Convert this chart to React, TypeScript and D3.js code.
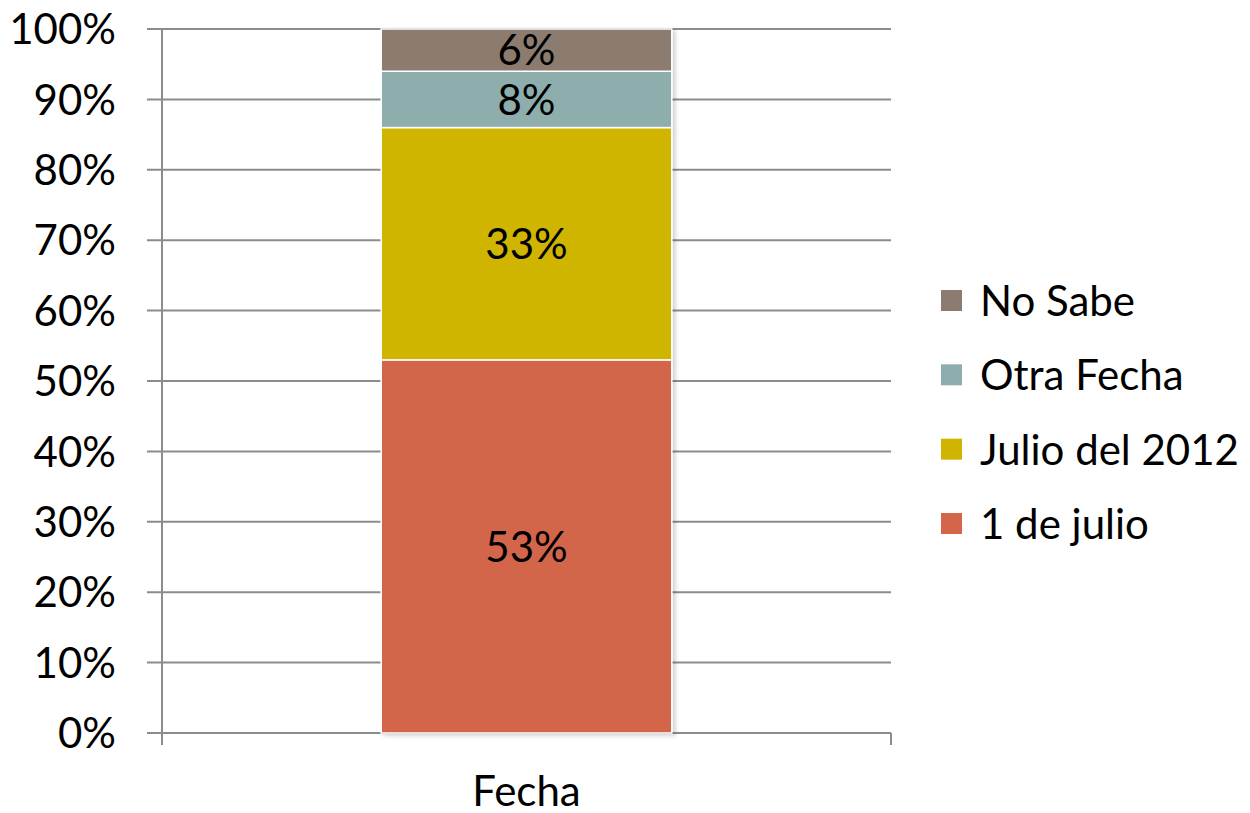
import React from "react";
import * as d3 from "d3";

const categories = ["Fecha"];
const seriesNames = ["1 de julio", "Julio del 2012", "Otra Fecha", "No Sabe"];
const seriesValues = [0.53, 0.33, 0.08, 0.06];
const seriesColors = ["#D3654B", "#CFB500", "#8EAEAD", "#8C7B70"];
const yTicks = [0, 0.1, 0.2, 0.3, 0.4, 0.5, 0.6, 0.7, 0.8, 0.9, 1.0];

const W = 1250;
const H = 813;
const FONT = "Lato, 'Open Sans', sans-serif";
const FS = 42;

export default function App() {
  const left = 162;
  const right = 891;
  const y = d3.scaleLinear().domain([0, 1]).range([733, 29]);
  const x = d3.scaleBand().domain(categories).range([left, right]).paddingInner(0.43).paddingOuter(0.43);
  const fmt = d3.format(".0%");

  const stacked: { name: string; v0: number; v1: number; color: string; value: number }[] = [];
  let acc = 0;
  seriesValues.forEach((v, i) => {
    stacked.push({ name: seriesNames[i], v0: acc, v1: acc + v, color: seriesColors[i], value: v });
    acc += v;
  });

  const legendOrder = [...stacked].reverse();
  const legendY = d3.scalePoint().domain(legendOrder.map((d) => d.name)).range([301, 524]);

  return (
    <svg width={W} height={H} style={{ position: "absolute", left: 0, top: 0, background: "#fff" }}>
      <defs>
        <filter id="sh" x="-10%" y="-10%" width="130%" height="130%">
          <feDropShadow dx="3" dy="2" stdDeviation="2" floodColor="#000" floodOpacity="0.18" />
        </filter>
      </defs>
      {yTicks.map((t) => (
        <line key={t} x1={147} x2={right} y1={y(t)} y2={y(t)} stroke="#8C8C8C" strokeWidth={2} />
      ))}
      <line x1={left} x2={left} y1={y(1)} y2={745} stroke="#8C8C8C" strokeWidth={2} />
      <line x1={right} x2={right} y1={y(0)} y2={745} stroke="#8C8C8C" strokeWidth={2} />
      {yTicks.map((t) => (
        <text key={t} x={116} y={y(t)} dy="0.36em" textAnchor="end" fontFamily={FONT} fontSize={FS} fill="#000">
          {fmt(t)}
        </text>
      ))}
      {categories.map((c) => (
        <g key={c} filter="url(#sh)">
          {stacked.map((s) => (
            <rect
              key={s.name}
              x={x(c)!}
              width={x.bandwidth()}
              y={y(s.v1)}
              height={y(s.v0) - y(s.v1)}
              fill={s.color}
              stroke="#fff"
              strokeWidth={1.5}
            />
          ))}
        </g>
      ))}
      {categories.map((c) =>
        stacked.map((s) => (
          <text
            key={c + s.name}
            x={x(c)! + x.bandwidth() / 2}
            y={(y(s.v0) + y(s.v1)) / 2}
            dy="0.36em"
            textAnchor="middle"
            fontFamily={FONT}
            fontSize={FS}
            fill="#000"
          >
            {fmt(s.value)}
          </text>
        ))
      )}
      {categories.map((c) => (
        <text key={c} x={x(c)! + x.bandwidth() / 2} y={806} textAnchor="middle" fontFamily={FONT} fontSize={FS} fill="#000">
          {c}
        </text>
      ))}
      {legendOrder.map((s) => (
        <g key={s.name} transform={`translate(941, ${legendY(s.name)})`}>
          <rect x={0} y={-11} width={21} height={21} fill={s.color} />
          <text x={39} y={0} dy="0.36em" fontFamily={FONT} fontSize={FS} fill="#000">
            {s.name}
          </text>
        </g>
      ))}
    </svg>
  );
}
